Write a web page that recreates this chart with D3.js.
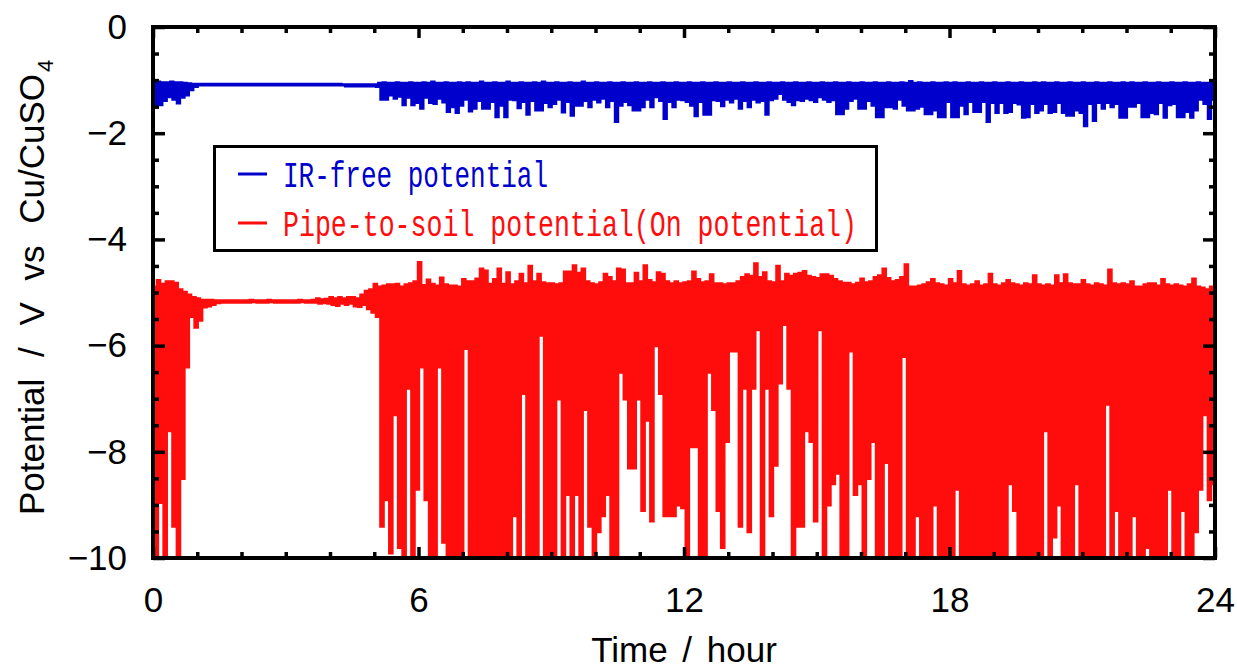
<!DOCTYPE html>
<html><head><meta charset="utf-8">
<script src="https://cdn.jsdelivr.net/npm/d3@7"></script>
<style>body{margin:0;background:#fff}svg{display:block}</style>
</head><body>
<svg id="chart" width="1237" height="669"></svg>
<script>
// ---------- data ----------
const SAMPLE_STEP_H = 0.1;               // one sample bin = 0.1 h (6 min)
const xTicks = [0, 6, 12, 18, 24];
const yTicks = [0, -2, -4, -6, -8, -10];
const seriesNames = ["IR-free potential", "Pipe-to-soil potential(On potential)"];
const xTitle = "Time / hour";
const yTitle = "Potential / V vs Cu/CuSO";
const yTitleSub = "4";

// Pipe-to-soil (On) potential: max and min of each 0.1 h bin (V)
const redTop = [
 -4.90,-4.78,-4.85,-4.80,-4.80,-4.83,-4.95,-5.00,-5.05,-5.10,
 -5.12,-5.15,-5.15,-5.15,-5.16,-5.16,-5.16,-5.16,-5.16,-5.16,
 -5.16,-5.16,-5.15,-5.16,-5.16,-5.16,-5.15,-5.16,-5.16,-5.16,
 -5.16,-5.16,-5.16,-5.15,-5.16,-5.16,-5.15,-5.12,-5.14,-5.13,
 -5.10,-5.12,-5.10,-5.12,-5.10,-5.10,-5.12,-5.05,-4.98,-4.95,
 -4.85,-4.90,-4.88,-4.86,-4.86,-4.85,-4.90,-4.86,-4.84,-4.80,
 -4.44,-4.87,-4.77,-4.85,-4.88,-4.73,-4.86,-4.88,-4.88,-4.90,
 -4.76,-4.80,-4.80,-4.75,-4.56,-4.60,-4.85,-4.76,-4.56,-4.85,
 -4.63,-4.86,-4.80,-4.66,-4.84,-4.51,-4.80,-4.66,-4.82,-4.84,
 -4.84,-4.86,-4.84,-4.62,-4.62,-4.50,-4.64,-4.56,-4.80,-4.84,
 -4.86,-4.82,-4.66,-4.72,-4.80,-4.56,-4.58,-4.84,-4.84,-4.64,
 -4.80,-4.50,-4.78,-4.82,-4.63,-4.66,-4.80,-4.84,-4.80,-4.84,
 -4.82,-4.80,-4.62,-4.76,-4.82,-4.80,-4.67,-4.84,-4.84,-4.86,
 -4.84,-4.84,-4.80,-4.72,-4.67,-4.70,-4.46,-4.72,-4.63,-4.80,
 -4.82,-4.51,-4.80,-4.66,-4.70,-4.66,-4.64,-4.61,-4.70,-4.72,
 -4.74,-4.67,-4.67,-4.70,-4.76,-4.80,-4.83,-4.83,-4.86,-4.83,
 -4.75,-4.82,-4.80,-4.72,-4.69,-4.56,-4.74,-4.80,-4.78,-4.72,
 -4.48,-4.90,-4.90,-4.88,-4.86,-4.82,-4.76,-4.84,-4.86,-4.88,
 -4.76,-4.84,-4.61,-4.86,-4.88,-4.86,-4.80,-4.88,-4.86,-4.66,
 -4.86,-4.88,-4.84,-4.78,-4.84,-4.86,-4.88,-4.84,-4.86,-4.69,
 -4.86,-4.88,-4.86,-4.88,-4.69,-4.84,-4.67,-4.84,-4.86,-4.86,
 -4.78,-4.86,-4.88,-4.84,-4.86,-4.88,-4.58,-4.84,-4.86,-4.84,
 -4.86,-4.80,-4.90,-4.90,-4.86,-4.84,-4.84,-4.88,-4.76,-4.86,
 -4.88,-4.86,-4.88,-4.90,-4.86,-4.75,-4.90,-4.92,-4.95,-4.90
];
const redLow = [
 -10.0,-8.95,-10.0,-7.60,-9.40,-10.0,-8.50,-6.40,-5.45,-5.65,
 -5.52,-5.27,-5.25,-5.22,-5.19,-5.18,-5.18,-5.18,-5.18,-5.18,
 -5.18,-5.18,-5.17,-5.18,-5.18,-5.18,-5.17,-5.18,-5.18,-5.18,
 -5.18,-5.18,-5.18,-5.17,-5.18,-5.18,-5.18,-5.20,-5.19,-5.20,
 -5.22,-5.24,-5.20,-5.22,-5.20,-5.25,-5.26,-5.22,-5.30,-5.37,
 -5.45,-9.40,-8.90,-9.90,-7.30,-9.80,-10.0,-6.80,-10.0,-8.70,
 -6.40,-8.90,-10.0,-10.0,-6.40,-9.70,-10.0,-10.0,-10.0,-10.0,
 -6.05,-10.0,-10.0,-10.0,-10.0,-10.0,-10.0,-10.0,-10.0,-10.0,
 -10.0,-9.20,-10.0,-6.90,-10.0,-10.0,-10.0,-5.80,-10.0,-10.0,
 -10.0,-7.00,-10.0,-8.80,-10.0,-8.80,-10.0,-7.20,-9.40,-10.0,
 -9.50,-9.20,-8.80,-10.0,-10.0,-6.50,-7.00,-8.30,-8.30,-7.00,
 -9.10,-7.40,-9.30,-6.00,-6.90,-9.20,-9.20,-9.20,-9.00,-9.05,
 -10.0,-7.90,-7.90,-10.0,-10.0,-6.50,-7.20,-9.10,-9.80,-7.80,
 -6.10,-6.10,-9.40,-6.80,-9.50,-6.80,-5.70,-10.0,-6.80,-9.20,
 -8.25,-6.70,-5.60,-6.80,-10.0,-9.40,-9.40,-7.60,-7.80,-9.30,
 -5.70,-10.0,-9.00,-8.60,-8.40,-10.0,-10.0,-6.10,-8.80,-8.60,
 -10.0,-8.50,-7.80,-10.0,-10.0,-8.20,-10.0,-10.0,-10.0,-6.20,
 -10.0,-10.0,-9.20,-10.0,-10.0,-10.0,-9.00,-10.0,-10.0,-10.0,
 -10.0,-8.70,-10.0,-10.0,-10.0,-10.0,-10.0,-10.0,-10.0,-10.0,
 -10.0,-10.0,-10.0,-8.60,-9.10,-10.0,-10.0,-10.0,-10.0,-10.0,
 -10.0,-7.60,-10.0,-9.60,-9.00,-10.0,-10.0,-10.0,-8.60,-10.0,
 -10.0,-10.0,-10.0,-10.0,-10.0,-7.10,-10.0,-9.10,-10.0,-10.0,
 -10.0,-9.20,-10.0,-10.0,-9.80,-10.0,-10.0,-10.0,-10.0,-8.70,
 -10.0,-10.0,-9.10,-10.0,-10.0,-9.50,-8.70,-7.30,-8.90,-8.60
];

// IR-free potential: max and min of each 0.1 h bin (V)
const blueTop = [
 -1.05,-1.04,-1.05,-1.05,-1.04,-1.05,-1.05,-1.06,-1.07,-1.08,
 -1.08,-1.08,-1.08,-1.08,-1.08,-1.08,-1.08,-1.08,-1.08,-1.08,
 -1.08,-1.08,-1.08,-1.08,-1.08,-1.08,-1.08,-1.08,-1.08,-1.08,
 -1.08,-1.08,-1.08,-1.08,-1.08,-1.08,-1.08,-1.08,-1.08,-1.08,
 -1.08,-1.08,-1.08,-1.09,-1.09,-1.09,-1.09,-1.09,-1.09,-1.09,
 -1.09,-1.06,-1.05,-1.06,-1.06,-1.05,-1.06,-1.06,-1.05,-1.06,
 -1.06,-1.05,-1.06,-1.04,-1.06,-1.06,-1.05,-1.06,-1.06,-1.05,
 -1.06,-1.05,-1.06,-1.06,-1.04,-1.06,-1.06,-1.05,-1.06,-1.06,
 -1.04,-1.06,-1.06,-1.05,-1.06,-1.06,-1.05,-1.06,-1.04,-1.06,
 -1.06,-1.05,-1.06,-1.06,-1.05,-1.06,-1.06,-1.04,-1.06,-1.06,
 -1.05,-1.06,-1.06,-1.05,-1.06,-1.06,-1.05,-1.06,-1.06,-1.05,
 -1.06,-1.06,-1.05,-1.06,-1.06,-1.05,-1.06,-1.06,-1.05,-1.06,
 -1.06,-1.05,-1.06,-1.06,-1.05,-1.06,-1.06,-1.05,-1.06,-1.06,
 -1.05,-1.06,-1.06,-1.05,-1.06,-1.06,-1.05,-1.06,-1.06,-1.05,
 -1.06,-1.06,-1.05,-1.06,-1.06,-1.05,-1.06,-1.06,-1.05,-1.06,
 -1.06,-1.05,-1.06,-1.06,-1.05,-1.06,-1.06,-1.05,-1.06,-1.06,
 -1.05,-1.06,-1.06,-1.05,-1.06,-1.06,-1.05,-1.06,-1.06,-1.05,
 -1.06,-1.03,-1.06,-1.05,-1.06,-1.06,-1.05,-1.06,-1.06,-1.05,
 -1.06,-1.05,-1.06,-1.06,-1.05,-1.06,-1.06,-1.05,-1.06,-1.06,
 -1.05,-1.06,-1.06,-1.05,-1.06,-1.06,-1.05,-1.06,-1.06,-1.05,
 -1.06,-1.05,-1.06,-1.06,-1.05,-1.06,-1.06,-1.05,-1.06,-1.06,
 -1.05,-1.06,-1.06,-1.05,-1.06,-1.06,-1.05,-1.06,-1.06,-1.05,
 -1.06,-1.05,-1.06,-1.06,-1.05,-1.06,-1.06,-1.05,-1.06,-1.06,
 -1.05,-1.06,-1.06,-1.05,-1.06,-1.06,-1.05,-1.06,-1.06,-1.06
];
const blueLow = [
 -1.50,-1.46,-1.38,-1.31,-1.36,-1.43,-1.32,-1.28,-1.18,-1.12,
 -1.09,-1.09,-1.09,-1.09,-1.09,-1.09,-1.09,-1.09,-1.09,-1.09,
 -1.09,-1.09,-1.09,-1.09,-1.09,-1.09,-1.09,-1.09,-1.09,-1.09,
 -1.09,-1.09,-1.09,-1.09,-1.09,-1.09,-1.09,-1.09,-1.09,-1.09,
 -1.09,-1.09,-1.09,-1.11,-1.11,-1.11,-1.11,-1.11,-1.11,-1.11,
 -1.12,-1.36,-1.36,-1.28,-1.34,-1.30,-1.46,-1.32,-1.46,-1.42,
 -1.53,-1.32,-1.42,-1.44,-1.34,-1.41,-1.59,-1.50,-1.61,-1.47,
 -1.36,-1.58,-1.53,-1.38,-1.53,-1.53,-1.40,-1.69,-1.47,-1.69,
 -1.36,-1.37,-1.52,-1.40,-1.64,-1.38,-1.56,-1.56,-1.42,-1.50,
 -1.44,-1.36,-1.60,-1.40,-1.66,-1.47,-1.47,-1.38,-1.50,-1.36,
 -1.41,-1.34,-1.50,-1.38,-1.78,-1.47,-1.40,-1.46,-1.56,-1.56,
 -1.50,-1.36,-1.50,-1.31,-1.38,-1.72,-1.40,-1.50,-1.36,-1.37,
 -1.40,-1.47,-1.67,-1.40,-1.64,-1.64,-1.37,-1.38,-1.48,-1.36,
 -1.41,-1.34,-1.53,-1.38,-1.50,-1.36,-1.41,-1.38,-1.64,-1.37,
 -1.34,-1.25,-1.36,-1.40,-1.46,-1.37,-1.38,-1.34,-1.37,-1.40,
 -1.31,-1.36,-1.40,-1.37,-1.63,-1.63,-1.53,-1.38,-1.34,-1.53,
 -1.53,-1.38,-1.47,-1.69,-1.69,-1.50,-1.50,-1.53,-1.36,-1.47,
 -1.56,-1.56,-1.53,-1.49,-1.63,-1.63,-1.56,-1.69,-1.69,-1.40,
 -1.69,-1.69,-1.47,-1.63,-1.40,-1.59,-1.59,-1.40,-1.78,-1.42,
 -1.61,-1.42,-1.61,-1.59,-1.42,-1.45,-1.70,-1.69,-1.44,-1.61,
 -1.56,-1.44,-1.61,-1.59,-1.42,-1.61,-1.66,-1.66,-1.56,-1.61,
 -1.86,-1.44,-1.76,-1.42,-1.53,-1.42,-1.50,-1.44,-1.70,-1.70,
 -1.49,-1.49,-1.42,-1.69,-1.69,-1.61,-1.63,-1.42,-1.70,-1.46,
 -1.44,-1.69,-1.69,-1.59,-1.70,-1.56,-1.36,-1.44,-1.72,-1.36
];

// ---------- styles ----------
const RED = "#ff0c0c", BLUE = "#0000cd";
const SANS = "'Liberation Sans', Arial, Helvetica, sans-serif";
const MONO = "'Liberation Mono', 'DejaVu Sans Mono', monospace";

const plot = {left: 153, right: 1215, top: 27, bottom: 558};
const x = d3.scaleLinear().domain([0, 24]).range([plot.left, plot.right]);
const y = d3.scaleLinear().domain([0, -10]).range([plot.top, plot.bottom]);

const svg = d3.select("#chart");
svg.append("rect").attr("width", 1237).attr("height", 669).attr("fill", "#fff");
svg.append("defs").append("clipPath").attr("id", "clip").append("rect")
  .attr("x", plot.left).attr("y", plot.top)
  .attr("width", plot.right - plot.left).attr("height", plot.bottom - plot.top);

function binPoints(top, low) {
  const pts = [];
  top.forEach((v, i) => {
    const t = i * SAMPLE_STEP_H;
    pts.push([t, v]);
    pts.push([t + SAMPLE_STEP_H / 2, low[i]]);
  });
  pts.push([top.length * SAMPLE_STEP_H, top[top.length - 1]]);
  return pts;
}
const line = d3.line().x(d => x(d[0])).y(d => y(d[1])).curve(d3.curveStepAfter);

const dataG = svg.append("g").attr("clip-path", "url(#clip)");
dataG.append("path").attr("d", line(binPoints(redTop, redLow)))
  .attr("fill", "none").attr("stroke", RED).attr("stroke-width", 3.4);
dataG.append("path").attr("d", line(binPoints(blueTop, blueLow)))
  .attr("fill", "none").attr("stroke", BLUE).attr("stroke-width", 3.2);

// ---------- axes ----------
const xMinor = d3.range(0, 25, 1).filter(v => v % 6 !== 0);
const yMinor = d3.range(0, -10.01, -0.5).filter(v => Math.abs(v % 2) > 1e-9);
const fmt = d3.format("d");

function addAxis(axis, transform) {
  const g = svg.append("g").attr("transform", transform).call(axis);
  g.select(".domain").remove();
  g.selectAll(".tick line").attr("stroke", "#000").attr("stroke-width", 3.5);
  g.selectAll("text").attr("font-family", SANS).attr("font-size", 35).attr("fill", "#000");
  return g;
}
addAxis(d3.axisBottom(x).tickValues(xTicks).tickSize(-11).tickSizeOuter(0).tickPadding(29).tickFormat(fmt), `translate(0,${plot.bottom})`);
addAxis(d3.axisBottom(x).tickValues(xMinor).tickSize(-6).tickSizeOuter(0).tickFormat(""), `translate(0,${plot.bottom})`);
addAxis(d3.axisTop(x).tickValues(xTicks).tickSize(-11).tickSizeOuter(0).tickFormat(""), `translate(0,${plot.top})`);
addAxis(d3.axisTop(x).tickValues(xMinor).tickSize(-6).tickSizeOuter(0).tickFormat(""), `translate(0,${plot.top})`);
addAxis(d3.axisLeft(y).tickValues(yTicks).tickSize(-12).tickSizeOuter(0).tickPadding(26).tickFormat(fmt), `translate(${plot.left},0)`);
addAxis(d3.axisLeft(y).tickValues(yMinor).tickSize(-6).tickSizeOuter(0).tickFormat(""), `translate(${plot.left},0)`);
addAxis(d3.axisRight(y).tickValues(yTicks).tickSize(-12).tickSizeOuter(0).tickFormat(""), `translate(${plot.right},0)`);
addAxis(d3.axisRight(y).tickValues(yMinor).tickSize(-6).tickSizeOuter(0).tickFormat(""), `translate(${plot.right},0)`);

svg.append("rect").attr("x", plot.left).attr("y", plot.top)
  .attr("width", plot.right - plot.left).attr("height", plot.bottom - plot.top)
  .attr("fill", "none").attr("stroke", "#000").attr("stroke-width", 4);

// ---------- titles ----------
svg.append("text").attr("x", (plot.left + plot.right) / 2).attr("y", 662)
  .attr("text-anchor", "middle").attr("font-family", SANS).attr("font-size", 35)
  .attr("word-spacing", 5).attr("fill", "#000").text(xTitle);

const yt = svg.append("text").attr("transform", "translate(44,515) rotate(-90)")
  .attr("font-family", SANS).attr("font-size", 35).attr("fill", "#000");
yt.append("tspan").attr("word-spacing", 12).text(yTitle);
yt.append("tspan").attr("font-size", 22).attr("dx", 2).attr("dy", 9).text(yTitleSub);

// ---------- legend ----------
const leg = svg.append("g");
leg.append("rect").attr("x", 214.5).attr("y", 146.5).attr("width", 662).attr("height", 104)
  .attr("fill", "#fff").attr("stroke", "#000").attr("stroke-width", 3);
const legItems = [
  {name: seriesNames[0], color: BLUE, ly: 174, ty: 187, len: 265},
  {name: seriesNames[1], color: RED, ly: 223, ty: 236, len: 574}
];
legItems.forEach(it => {
  leg.append("line").attr("x1", 238).attr("x2", 267).attr("y1", it.ly).attr("y2", it.ly)
    .attr("stroke", it.color).attr("stroke-width", 3);
  leg.append("text").attr("x", 283).attr("y", it.ty).attr("font-family", MONO)
    .attr("font-size", 36).attr("fill", it.color)
    .attr("textLength", it.len).attr("lengthAdjust", "spacingAndGlyphs").text(it.name);
});
</script>
</body></html>
